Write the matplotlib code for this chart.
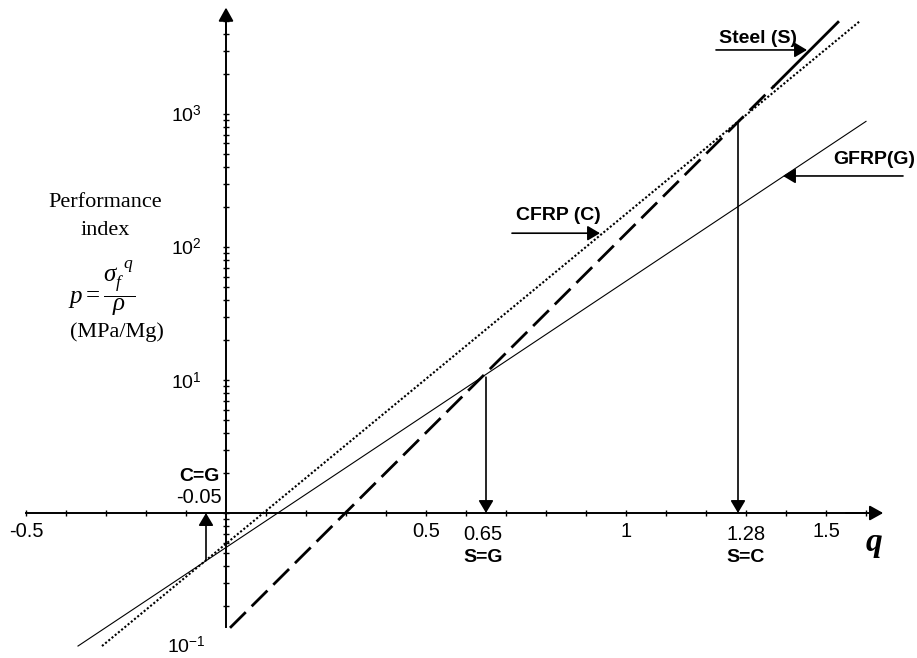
import numpy as np
import matplotlib.pyplot as plt
from matplotlib.ticker import FixedLocator, FixedFormatter, NullFormatter

plt.rcParams['font.family'] = ['Liberation Sans', 'DejaVu Sans']
plt.rcParams['mathtext.fontset'] = 'custom'
plt.rcParams['mathtext.rm'] = 'Liberation Serif'
plt.rcParams['mathtext.it'] = 'Liberation Serif:italic'
plt.rcParams['mathtext.sf'] = 'Liberation Sans'

# line end points (q, performance index p)
steel_q = [0.01, 1.37, 1.53]
steel_p = [0.137, 1620, 4900]
cfrp_q = [-0.31, 1.585]
cfrp_p = [0.10, 5000]
gfrp_q = [-0.37, 1.60]
gfrp_p = [0.10, 880]

# crossover points: q where two materials are equal, and p there
cross_names = ['S=G', 'S=C', 'C=G']
cross_q = [0.65, 1.28, -0.05]
cross_p = [10.5, 850, 0.443]

x_ticks = [-0.5, 0.5, 1, 1.5]
x_ticklabels = ['-0.5', '0.5', '1', '1.5']
y_ticks = [1, 10, 100, 1000]
y_ticklabels = ['', r'$\mathsf{10}^{\mathsf{1}}$', r'$\mathsf{10}^{\mathsf{2}}$', r'$\mathsf{10}^{\mathsf{3}}$']

fig = plt.figure(figsize=(9.17, 6.58), dpi=100)
ax = fig.add_axes([0, 0, 1, 1])
ax.set_yscale('log')
ax.set_xlim(-0.565, 1.7275)
ax.set_ylim(10 ** -1.090, 10 ** 3.857)

# material lines
ax.plot(steel_q[:2], steel_p[:2], color='k', lw=2.0, dashes=(8, 3), solid_capstyle='butt')
ax.plot(steel_q[1:], steel_p[1:], color='k', lw=2.0)
ax.plot(cfrp_q, cfrp_p, color='k', lw=1.5, ls=(0, (1, 1)))
ax.plot(gfrp_q, gfrp_p, color='k', lw=0.8)

# axes through the origin (q=0, p=1)
for s in ['top', 'right']:
    ax.spines[s].set_visible(False)
ax.spines['left'].set_position(('data', 0))
ax.spines['bottom'].set_position(('data', 1))
ax.spines['left'].set_bounds(0.139, 10 ** 3.72)
ax.spines['bottom'].set_bounds(-0.5, 1.6)
ax.spines['left'].set_linewidth(1.4)
ax.spines['bottom'].set_linewidth(1.4)
axis_arrow = dict(arrowstyle='-|>,head_length=0.45,head_width=0.25', mutation_scale=18,
                  color='k', lw=1.4, shrinkA=0, shrinkB=0)
ax.annotate('', xy=(0, 10 ** 3.80), xytext=(0, 10 ** 3.6), arrowprops=axis_arrow)
ax.annotate('', xy=(1.643, 1), xytext=(1.55, 1), arrowprops=axis_arrow)

ax.xaxis.set_major_locator(FixedLocator(x_ticks))
ax.xaxis.set_major_formatter(FixedFormatter(x_ticklabels))
ax.xaxis.set_minor_locator(FixedLocator([-0.4, -0.3, -0.2, -0.1, 0.1, 0.2, 0.3, 0.4, 0.6, 0.7,
                                         0.8, 0.9, 1.1, 1.2, 1.3, 1.4, 1.6]))
ax.yaxis.set_major_locator(FixedLocator(y_ticks))
ax.yaxis.set_major_formatter(FixedFormatter(y_ticklabels))
ax.yaxis.set_minor_locator(FixedLocator([0.2, 0.3, 0.4, 0.5, 0.6, 0.7, 0.8, 0.9,
                                         2, 3, 4, 5, 6, 7, 8, 9, 20, 30, 40, 50, 60, 70, 80, 90,
                                         200, 300, 400, 500, 600, 700, 800, 900,
                                         2000, 3000, 4000, 5000]))
ax.yaxis.set_minor_formatter(NullFormatter())
ax.tick_params(which='both', direction='inout', width=1.0, colors='k')
ax.tick_params(which='major', length=5)
ax.tick_params(which='minor', length=4)
ax.tick_params(axis='x', which='major', labelsize=14.5, pad=4)
ax.tick_params(axis='y', which='major', labelsize=14, pad=15)

ax.text(-0.05, 0.1, r'$\mathsf{10}^{\mathsf{-1}}$', fontsize=14, ha='right', va='center')
ax.text(1.62, 0.605, 'q', fontsize=24, family='Liberation Serif', weight='bold', style='italic',
        ha='center', va='center')

# crossover arrows and labels
arrow_kw = dict(arrowstyle='-|>,head_length=0.42,head_width=0.25', mutation_scale=18,
                color='k', lw=1.2, shrinkA=0, shrinkB=0)
for q, p in zip(cross_q, cross_p):
    ax.annotate('', xy=(q, 1), xytext=(q, p), arrowprops=arrow_kw)

ax.text(0.6425, 0.69, '0.65', fontsize=14.5, ha='center', va='center')
ax.text(0.6425, 0.467, cross_names[0], fontsize=14, weight='bold', ha='center', va='center')
ax.text(1.30, 0.69, '1.28', fontsize=14.5, ha='center', va='center')
ax.text(1.30, 0.467, cross_names[1], fontsize=14, weight='bold', ha='center', va='center')
ax.text(-0.0675, 1.897, cross_names[2], fontsize=14, weight='bold', ha='center', va='center')
ax.text(-0.0675, 1.297, '-0.05', fontsize=14.5, ha='center', va='center')

# material labels with pointer arrows
ax.text(1.33, 3726, 'Steel (S)', fontsize=14, weight='bold', ha='center', va='center')
ax.annotate('', xy=(1.4525, 3030), xytext=(1.225, 3030), arrowprops=arrow_kw)
ax.text(0.83, 174, 'CFRP (C)', fontsize=14, weight='bold', ha='center', va='center')
ax.annotate('', xy=(0.935, 127), xytext=(0.715, 127), arrowprops=arrow_kw)
ax.text(1.5175, 451, 'GFRP(G)', fontsize=14, weight='bold', ha='left', va='center')
ax.annotate('', xy=(1.3925, 342), xytext=(1.6925, 342), arrowprops=arrow_kw)

# y axis title block
serif = 'Liberation Serif'
ax.text(0.1145, 0.6915, 'Performance', fontsize=16, family=serif, ha='center', va='center',
        transform=ax.transAxes)
ax.text(0.1145, 0.649, 'index', fontsize=16, family=serif, ha='center', va='center',
        transform=ax.transAxes)
ax.text(0.1112, 0.5623, r'$p=\dfrac{\sigma_f^{\;\;q}}{\rho}$', fontsize=18, ha='center',
        va='center', transform=ax.transAxes)
ax.text(0.1276, 0.4945, '(MPa/Mg)', fontsize=16, family=serif, ha='center', va='center',
        transform=ax.transAxes)

fig.savefig('out.png', dpi=100)
